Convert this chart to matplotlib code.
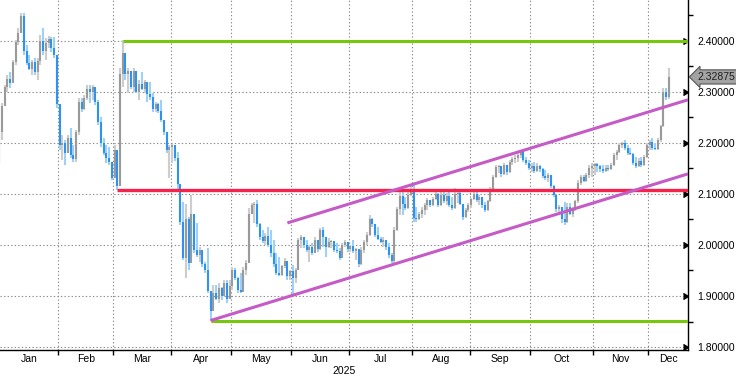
import numpy as np
import pandas as pd
import matplotlib
matplotlib.use("Agg")
import matplotlib.pyplot as plt

plt.rcParams['font.family'] = ['Liberation Sans', 'DejaVu Sans']

# daily bars, business days from 2 Jan 2025
start_date = "2025-01-02"
first_open = 2.160
close = [
    2.221, 2.272, 2.310, 2.325, 2.316, 2.358, 2.397, 2.415, 2.448, 2.380,
    2.356, 2.345, 2.357, 2.338, 2.360, 2.400, 2.380, 2.395, 2.402, 2.385,
    2.372, 2.275, 2.195, 2.200, 2.180, 2.210, 2.175, 2.168, 2.220, 2.280,
    2.265, 2.288, 2.305, 2.300, 2.310, 2.280, 2.240, 2.200, 2.180, 2.170,
    2.162, 2.130, 2.185, 2.115, 2.335, 2.375, 2.335, 2.340, 2.310, 2.340,
    2.300, 2.315, 2.305, 2.318, 2.295, 2.290, 2.265, 2.275, 2.262, 2.245,
    2.220, 2.185, 2.192, 2.195, 2.170, 2.120, 2.045, 1.975, 2.050, 1.965,
    2.060, 1.990, 1.980, 1.990, 1.962, 1.950, 1.910, 1.870, 1.905, 1.895,
    1.915, 1.900, 1.925, 1.895, 1.920, 1.950, 1.935, 1.912, 1.908, 1.950,
    1.965, 2.060, 2.078, 2.080, 2.040, 2.015, 2.008, 2.018, 2.000, 1.985,
    1.962, 1.945, 1.942, 1.958, 1.968, 1.940, 1.948, 1.935, 1.950, 2.010,
    2.015, 2.000, 1.990, 1.996, 1.985, 2.010, 1.992, 2.030, 2.015, 1.995,
    2.005, 2.008, 1.990, 1.988, 1.975, 2.000, 2.006, 1.992, 1.998, 1.988,
    1.992, 1.962, 1.990, 2.005, 2.020, 2.050, 2.040, 2.020, 2.012, 2.006,
    2.010, 1.995, 1.980, 1.968, 2.030, 2.070, 2.095, 2.080, 2.072, 2.098,
    2.105, 2.052, 2.050, 2.060, 2.068, 2.078, 2.088, 2.078, 2.090, 2.100,
    2.078, 2.098, 2.085, 2.095, 2.078, 2.072, 2.100, 2.102, 2.080, 2.055,
    2.068, 2.078, 2.090, 2.100, 2.088, 2.094, 2.078, 2.068, 2.085, 2.108,
    2.132, 2.152, 2.155, 2.138, 2.156, 2.142, 2.162, 2.168, 2.170, 2.176,
    2.183, 2.166, 2.160, 2.150, 2.155, 2.145, 2.155, 2.148, 2.135, 2.130,
    2.136, 2.115, 2.098, 2.070, 2.075, 2.050, 2.045, 2.075, 2.060, 2.068,
    2.085, 2.122, 2.132, 2.126, 2.136, 2.150, 2.155, 2.158, 2.155, 2.148,
    2.145, 2.150, 2.148, 2.156, 2.176, 2.182, 2.196, 2.199, 2.190, 2.180,
    2.178, 2.160, 2.155, 2.165, 2.156, 2.172, 2.196, 2.202, 2.190, 2.188,
    2.205, 2.232, 2.300, 2.290, 2.32875,
]
high = [
    2.225, 2.278, 2.313, 2.332, 2.338, 2.362, 2.401, 2.424, 2.454, 2.454,
    2.391, 2.372, 2.362, 2.366, 2.366, 2.411, 2.424, 2.405, 2.409, 2.407,
    2.407, 2.372, 2.274, 2.215, 2.205, 2.215, 2.229, 2.196, 2.225, 2.288,
    2.288, 2.293, 2.313, 2.313, 2.313, 2.307, 2.284, 2.250, 2.209, 2.196,
    2.192, 2.160, 2.196, 2.176, 2.346, 2.401, 2.352, 2.346, 2.336, 2.346,
    2.323, 2.323, 2.338, 2.323, 2.317, 2.319, 2.297, 2.280, 2.278, 2.284,
    2.244, 2.221, 2.196, 2.198, 2.186, 2.182, 2.103, 2.084, 2.080, 2.054,
    2.098, 2.035, 2.043, 1.996, 1.980, 1.966, 1.994, 1.908, 1.922, 1.922,
    1.926, 1.918, 1.931, 1.931, 1.931, 1.957, 1.955, 1.937, 1.945, 1.957,
    1.970, 2.072, 2.082, 2.084, 2.088, 2.043, 2.029, 2.023, 2.035, 2.029,
    2.010, 1.984, 1.976, 1.961, 1.974, 1.961, 1.951, 1.961, 1.955, 2.014,
    2.020, 2.016, 2.010, 2.000, 2.004, 2.016, 2.010, 2.033, 2.035, 2.010,
    2.014, 2.010, 2.008, 2.004, 1.994, 2.004, 2.010, 2.006, 2.000, 2.010,
    1.994, 1.986, 1.996, 2.010, 2.025, 2.059, 2.053, 2.039, 2.035, 2.016,
    2.016, 2.010, 2.004, 1.984, 2.035, 2.074, 2.103, 2.103, 2.094, 2.103,
    2.115, 2.117, 2.074, 2.064, 2.074, 2.082, 2.092, 2.088, 2.094, 2.103,
    2.101, 2.103, 2.107, 2.101, 2.103, 2.094, 2.111, 2.107, 2.107, 2.074,
    2.072, 2.082, 2.092, 2.107, 2.107, 2.098, 2.094, 2.084, 2.088, 2.113,
    2.137, 2.156, 2.156, 2.150, 2.160, 2.156, 2.166, 2.172, 2.176, 2.180,
    2.186, 2.180, 2.172, 2.166, 2.160, 2.162, 2.160, 2.156, 2.150, 2.147,
    2.141, 2.137, 2.117, 2.094, 2.078, 2.074, 2.084, 2.082, 2.082, 2.074,
    2.088, 2.127, 2.137, 2.137, 2.141, 2.156, 2.160, 2.160, 2.160, 2.156,
    2.156, 2.156, 2.156, 2.160, 2.180, 2.186, 2.200, 2.202, 2.205, 2.196,
    2.190, 2.180, 2.172, 2.170, 2.172, 2.176, 2.200, 2.205, 2.209, 2.200,
    2.209, 2.235, 2.307, 2.307, 2.346,
]
low = [
    2.156, 2.205, 2.278, 2.299, 2.307, 2.323, 2.352, 2.391, 2.417, 2.372,
    2.352, 2.342, 2.332, 2.332, 2.323, 2.352, 2.372, 2.362, 2.385, 2.378,
    2.366, 2.268, 2.186, 2.166, 2.156, 2.182, 2.170, 2.162, 2.162, 2.215,
    2.260, 2.264, 2.284, 2.278, 2.284, 2.274, 2.235, 2.192, 2.176, 2.160,
    2.156, 2.127, 2.133, 2.108, 2.115, 2.310, 2.323, 2.297, 2.305, 2.299,
    2.297, 2.284, 2.303, 2.297, 2.280, 2.284, 2.260, 2.260, 2.258, 2.240,
    2.215, 2.180, 2.131, 2.160, 2.164, 2.108, 2.039, 1.970, 1.935, 1.950,
    1.976, 1.984, 1.976, 1.966, 1.957, 1.945, 1.906, 1.852, 1.876, 1.892,
    1.886, 1.892, 1.912, 1.886, 1.906, 1.912, 1.931, 1.906, 1.906, 1.925,
    1.941, 1.966, 2.062, 2.043, 2.035, 2.010, 2.004, 2.000, 1.996, 1.976,
    1.957, 1.941, 1.940, 1.940, 1.955, 1.931, 1.931, 1.902, 1.925, 1.950,
    1.994, 1.994, 1.986, 1.966, 1.980, 1.985, 1.986, 1.990, 1.996, 1.976,
    1.994, 1.994, 1.986, 1.984, 1.970, 1.975, 1.996, 1.986, 1.986, 1.984,
    1.970, 1.957, 1.960, 1.984, 2.000, 2.018, 2.035, 2.016, 2.010, 2.004,
    1.996, 1.990, 1.974, 1.964, 1.965, 2.028, 2.059, 2.059, 2.068, 2.070,
    2.096, 2.045, 2.045, 2.049, 2.053, 2.059, 2.068, 2.074, 2.076, 2.088,
    2.074, 2.076, 2.082, 2.078, 2.074, 2.068, 2.070, 2.082, 2.078, 2.049,
    2.053, 2.064, 2.072, 2.088, 2.084, 2.078, 2.072, 2.064, 2.066, 2.084,
    2.103, 2.130, 2.141, 2.133, 2.136, 2.137, 2.140, 2.156, 2.160, 2.162,
    2.170, 2.162, 2.156, 2.147, 2.143, 2.141, 2.143, 2.143, 2.131, 2.127,
    2.123, 2.111, 2.094, 2.064, 2.059, 2.043, 2.039, 2.043, 2.058, 2.055,
    2.066, 2.082, 2.118, 2.123, 2.124, 2.131, 2.133, 2.137, 2.143, 2.143,
    2.141, 2.143, 2.145, 2.147, 2.154, 2.166, 2.180, 2.190, 2.186, 2.176,
    2.176, 2.156, 2.150, 2.153, 2.152, 2.155, 2.170, 2.186, 2.186, 2.186,
    2.186, 2.201, 2.230, 2.284, 2.285,
]

# drawn levels and channel (bar position, price)
resistance = (46, 2.400)
pivot = (44, 2.108)
support = (78, 1.852)
channel_low = ([78, 252], [1.852, 2.139])
channel_high = ([106, 252], [2.043, 2.284])

y_ticks = [1.8, 1.9, 2.0, 2.1, 2.2, 2.3, 2.4]
x_range = (1.27, 252.0)
y_range = (1.7943, 2.4793)

blue, blue_wick = '#2e93ef', '#9fd0f7'
grey, grey_wick = '#9a9a9a', '#cdcdcd'
green, red, purple = '#77c70e', '#f5234c', '#c55bc6'

# positions = business days since 1 Jan
all_days = pd.bdate_range("2025-01-01", "2025-12-31")
dates = pd.bdate_range(start_date, periods=len(close))
x = np.array([all_days.get_loc(d) for d in dates])
close = np.array(close)
opens = np.concatenate([[first_open], close[:-1]])
up = close >= opens

fig = plt.figure(figsize=(7.36, 3.77), dpi=100)
ax = fig.add_axes([0, 27 / 377, 688 / 736, 350 / 377])

wick_colors = [grey_wick if u else blue_wick for u in up]
body_colors = [grey if u else blue for u in up]
ax.vlines(x, low, high, colors=wick_colors, lw=1.5, zorder=2)
ax.vlines(x, np.minimum(opens, close), np.maximum(opens, close),
          colors=body_colors, lw=1.5, zorder=2)

ax.hlines(resistance[1], resistance[0], x_range[1], color=green, lw=2.2, zorder=3)
ax.hlines(support[1], support[0], x_range[1], color=green, lw=2.2, zorder=3)
ax.hlines(pivot[1], pivot[0], x_range[1], color=red, lw=2.4, zorder=3)
ax.plot(*channel_low, color=purple, lw=2.2, zorder=3, solid_capstyle='butt')
ax.plot(*channel_high, color=purple, lw=2.2, zorder=3, solid_capstyle='butt')

ax.set_xlim(*x_range)
ax.set_ylim(*y_range)

# month boundaries and labels
month_start = [np.argmax(all_days.month == m) - 0.5 for m in range(2, 13)]
edges = [x_range[0]] + month_start + [x_range[1]]
mids = [(a + b) / 2 for a, b in zip(edges[:-1], edges[1:])]
months = ['Jan', 'Feb', 'Mar', 'Apr', 'May', 'Jun', 'Jul', 'Aug', 'Sep', 'Oct', 'Nov', 'Dec']
ax.set_xticks(month_start)
ax.set_xticklabels([])
ax.set_xticks(mids, minor=True)
ax.set_xticklabels(months, minor=True, fontsize=7.5)
ax.tick_params(axis='x', which='major', length=3.5, width=1, direction='out')
ax.tick_params(axis='x', which='minor', length=0, pad=3)
ax.text(0.5, -0.06, '2025', transform=ax.transAxes, ha='center', va='center', fontsize=7.5)

ax.yaxis.tick_right()
ax.set_yticks(y_ticks)
ax.set_yticklabels([f'{v:.5f}' for v in y_ticks], fontsize=7.5)
ax.set_yticks(np.arange(1.85, 2.5, 0.1), minor=True)
ax.tick_params(axis='y', which='major', length=0, pad=6.5)
ax.tick_params(axis='y', which='minor', length=3.5, width=1, direction='out')
ax.plot([1.0] * len(y_ticks), y_ticks, ls='none', marker=5, markersize=4.5,
        color='black', transform=ax.get_yaxis_transform(), clip_on=False)

ax.grid(True, which='major', color='#8a8a8a', ls=(0, (1.2, 2)), lw=0.8)
for side in ['left', 'top']:
    ax.spines[side].set_visible(False)
for side in ['right', 'bottom']:
    ax.spines[side].set_color('black')
    ax.spines[side].set_linewidth(1)

ax.annotate(f'{close[-1]:.5f}', xy=(1.0, close[-1]), xycoords=ax.get_yaxis_transform(),
            xytext=(6.5, 0), textcoords='offset points', va='center', ha='left',
            fontsize=7.5, color='#202020',
            bbox=dict(boxstyle='larrow,pad=0.2', fc='#a3a3a3', ec='#555555', lw=0.8))

fig.savefig('out.png', dpi=100)
